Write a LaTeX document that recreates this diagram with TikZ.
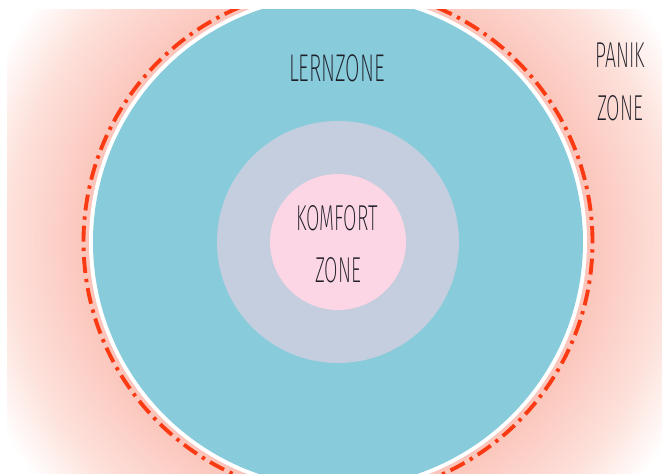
\documentclass[tikz,border=0pt]{standalone}
\usepackage{fontspec}
\newfontfamily\zfont[FakeStretch=0.54]{Fira Sans ExtraLight}
\definecolor{lerncol}{RGB}{136,203,219}
\definecolor{midcol}{RGB}{196,206,222}
\definecolor{komfcol}{RGB}{252,214,228}
\definecolor{dashcol}{RGB}{250,58,18}
\definecolor{txtcol}{RGB}{30,30,40}
\pgfdeclareradialshading{glow}{\pgfpoint{0bp}{0bp}}{rgb(0bp)=(0.985,0.77,0.73); rgb(16.2bp)=(0.985,0.77,0.73); rgb(19bp)=(0.988,0.83,0.80); rgb(21.5bp)=(0.993,0.885,0.86); rgb(25bp)=(1,1,1); rgb(50bp)=(1,1,1)}
\tikzset{
  lbl/.style={text=txtcol, inner sep=0pt, font=\zfont\fontsize{27}{27}\selectfont},
  biglbl/.style={lbl, font=\zfont\fontsize{29}{29}\selectfont},
  panikline/.style={draw=dashcol, line width=2.9pt, dash pattern=on 12pt off 4.5pt on 2.5pt off 4.5pt}
}
\begin{document}
\begin{tikzpicture}[x=0.75pt,y=0.75pt]
\useasboundingbox (0,0) rectangle (662,474);
\fill[white] (0,0) rectangle (662,474);
\begin{scope}
  \clip (7,0) rectangle (662,464);
  \shade[shading=glow] (338,232) circle [radius=385];
  \fill[white] (338,232) circle [radius=249];
  \fill[lerncol] (338,232) circle [radius=245];
  \draw[panikline] (338,232) circle [radius=254.5];
\end{scope}
\fill[midcol] (338,232) circle [radius=121];
\fill[komfcol] (338,232) circle [radius=68];
\node[biglbl] (lern) at (337,406) {LERNZONE};
\node[lbl] (komf) at (337,256) {KOMFORT};
\node[lbl] (kzone) at (338,204) {ZONE};
\node[lbl] (panik) at (620,419) {PANIK};
\node[lbl] (pzone) at (620,366) {ZONE};
\end{tikzpicture}
\end{document}
